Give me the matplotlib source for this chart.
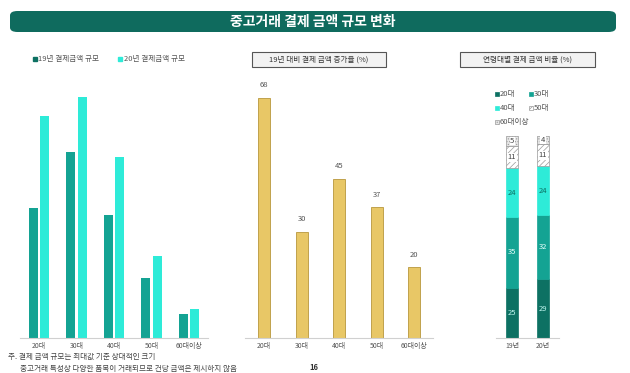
import matplotlib.pyplot as plt
import numpy as np
from matplotlib.patches import FancyBboxPatch, Rectangle

plt.rcParams['font.family'] = ['Noto Sans CJK KR', 'DejaVu Sans']
plt.rcParams['hatch.linewidth'] = 0.5
plt.rcParams['hatch.color'] = '#9a9a9a'

# data
ages = ['20대', '30대', '40대', '50대', '60대이상']
size19 = [54, 77, 51, 25, 10]
size20 = [92, 100, 75, 34, 12]
growth = [68, 30, 45, 37, 20]
years = ['19년', '20년']
share = {
    '20대': [25, 29],
    '30대': [35, 32],
    '40대': [24, 24],
    '50대': [11, 11],
    '60대이상': [5, 4],
}

W, H = 630, 373
fig = plt.figure(figsize=(6.3, 3.73), dpi=100)

def px_axes(x0, x1, ytop, ybot):
    return fig.add_axes([x0 / W, 1 - ybot / H, (x1 - x0) / W, (ybot - ytop) / H])

def clean(ax):
    for s in ['top', 'right', 'left']:
        ax.spines[s].set_visible(False)
    ax.spines['bottom'].set_color('#d0d0d0')
    ax.spines['bottom'].set_linewidth(0.8)
    ax.set_yticks([])
    ax.tick_params(axis='x', length=0, labelsize=5, labelcolor='#555555', pad=3)

c19 = '#14a393'
c20 = '#2eebd8'
cdark = '#0d7163'
gold = '#e8c766'

# title bar
bar = FancyBboxPatch((10 / W, 1 - 32 / H), 606 / W, 21 / H,
                     boxstyle='round,pad=0,rounding_size=0.012',
                     transform=fig.transFigure, facecolor='#0f6b5e',
                     edgecolor='none')
fig.patches.append(bar)
fig.text(313 / W, 1 - 21.5 / H, '중고거래 결제 금액 규모 변화', color='white',
         fontsize=10, fontweight='bold', ha='center', va='center')

# left chart
ax1 = px_axes(20.25, 207.75, 85, 338)
x = np.arange(len(ages))
ax1.bar(x - 0.147, size19, width=0.24, color=c19)
ax1.bar(x + 0.147, size20, width=0.24, color=c20)
ax1.set_xlim(-0.5, 4.5)
ax1.set_ylim(0, 105)
ax1.set_xticks(x)
ax1.set_xticklabels(ages)
clean(ax1)

fig.patches.append(Rectangle((33 / W, 1 - 60.5 / H), 4 / W, 4 / H,
                             transform=fig.transFigure, color=cdark))
fig.text(38.5 / W, 1 - 58.5 / H, '19년 결제금액 규모', fontsize=5.5,
         color='#555555', va='center')
fig.patches.append(Rectangle((118 / W, 1 - 60.5 / H), 4 / W, 4 / H,
                             transform=fig.transFigure, color=c20))
fig.text(123.5 / W, 1 - 58.5 / H, '20년 결제금액 규모', fontsize=5.5,
         color='#555555', va='center')

# middle chart
ax2 = px_axes(245.25, 432.75, 85, 338)
bars = ax2.bar(x, growth, width=0.32, color=gold, edgecolor='#b8973c', linewidth=0.6)
for b, v in zip(bars, growth):
    ax2.text(b.get_x() + b.get_width() / 2, v + 2.5, str(v), ha='center',
             va='bottom', fontsize=5.5, color='#555555')
ax2.set_xlim(-0.5, 4.5)
ax2.set_ylim(0, 253 / 3.529)
ax2.set_xticks(x)
ax2.set_xticklabels(ages)
clean(ax2)

def title_box(x0, x1, text):
    fig.patches.append(Rectangle((x0 / W, 1 - 67 / H), (x1 - x0) / W, 15 / H,
                                 transform=fig.transFigure, facecolor='#f2f2f2',
                                 edgecolor='#555555', linewidth=0.8))
    fig.text((x0 + x1) / 2 / W, 1 - 59.5 / H, text, fontsize=5.5,
             color='#333333', ha='center', va='center')

title_box(252, 386, '19년 대비 결제 금액 증가율 (%)')
title_box(460, 595, '연령대별 결제 금액 비율 (%)')

# right chart
ax3 = px_axes(496, 559, 136, 338)
xr = np.arange(len(years))
styles = {
    '20대': dict(color=cdark, hatch=None, ec=cdark, tc='#bff5ee'),
    '30대': dict(color=c19, hatch=None, ec=c19, tc='#e8fffb'),
    '40대': dict(color=c20, hatch=None, ec=c20, tc='#0d7163'),
    '50대': dict(color='white', hatch='//////', ec='#9a9a9a', tc='#444444'),
    '60대이상': dict(color='#e6e6e6', hatch='......', ec='#9a9a9a', tc='#444444'),
}
bottom = np.zeros(len(years))
for k, vals in share.items():
    st = styles[k]
    ax3.bar(xr, vals, bottom=bottom, width=0.39, color=st['color'],
            hatch=st['hatch'], edgecolor=st['ec'], linewidth=0.5)
    for xi, b, v in zip(xr, bottom, vals):
        ax3.text(xi, b + v / 2, str(v), ha='center', va='center',
                 fontsize=5.5, color=st['tc'],
                 bbox=dict(facecolor='white', edgecolor='none', pad=0.3) if st['hatch'] else None)
    bottom += vals
ax3.set_xlim(-0.52, 1.52)
ax3.set_ylim(0, 100)
ax3.set_xticks(xr)
ax3.set_xticklabels(years)
clean(ax3)

leg = [('20대', 495, 94), ('30대', 529, 94), ('40대', 495, 108),
       ('50대', 529, 108), ('60대이상', 495, 122)]
for name, lx, ly in leg:
    st = styles[name]
    fig.patches.append(Rectangle((lx / W, 1 - (ly + 2) / H), 4 / W, 4 / H,
                                 transform=fig.transFigure, facecolor=st['color'],
                                 edgecolor=st['ec'], linewidth=0.5,
                                 hatch=st['hatch']))
    fig.text((lx + 5) / W, 1 - ly / H, name, fontsize=5.5, color='#555555',
             va='center')

# footnote
fig.text(8 / W, 1 - 357 / H, '주. 결제 금액 규모는 최대값 기준 상대적인 크기',
         fontsize=5.5, color='#444444', va='center')
fig.text(20 / W, 1 - 369 / H, '중고거래 특성상 다양한 품목이 거래되므로 건당 금액은 제시하지 않음',
         fontsize=5.5, color='#444444', va='center')
fig.text(314 / W, 1 - 367 / H, '16', fontsize=5.5, fontweight='bold',
         color='#333333', ha='center', va='center')

fig.savefig('out.png', dpi=100, facecolor='white')
